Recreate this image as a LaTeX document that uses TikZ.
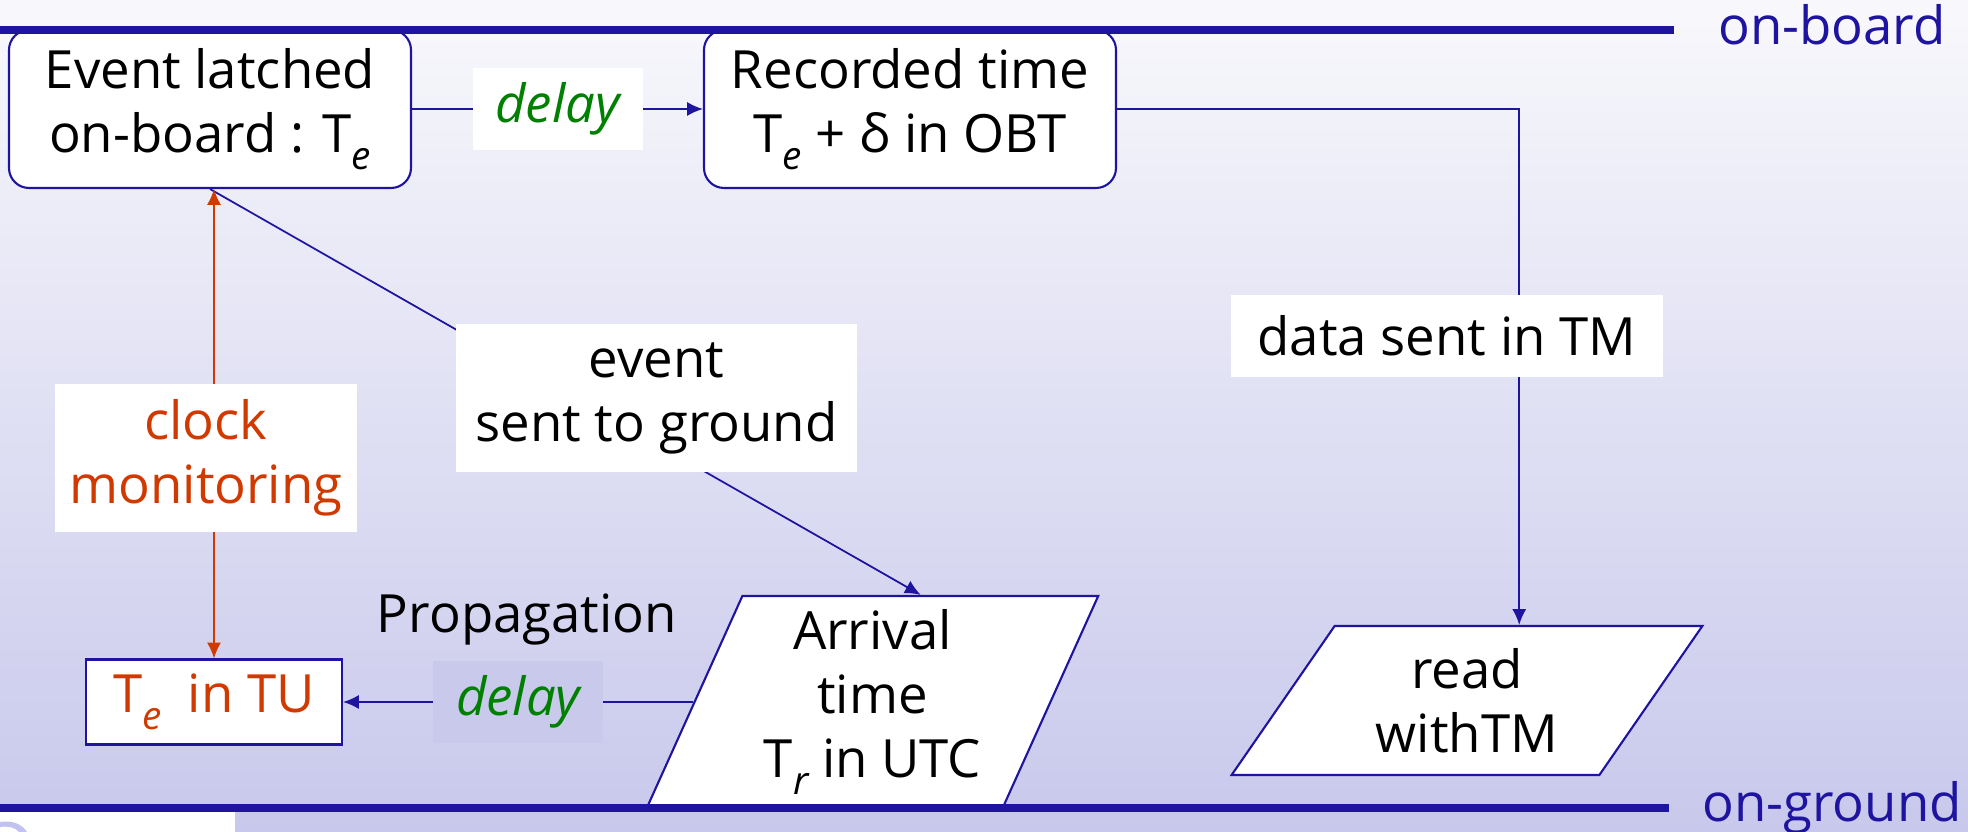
\documentclass[tikz,border=0pt]{standalone}
\usepackage{fontspec}
\setmainfont{Open Sans}
\usetikzlibrary{arrows.meta,shapes.geometric}

\definecolor{lineblue}{RGB}{30,20,160}
\definecolor{txtred}{RGB}{208,58,0}
\definecolor{txtgreen}{RGB}{0,128,0}
\definecolor{bgtop}{RGB}{248,248,252}
\definecolor{bgmid}{RGB}{238,238,248}
\definecolor{bgbot}{RGB}{200,200,236}
\definecolor{lbllav}{RGB}{201,201,235}

\newcommand{\lowsub}[1]{\raisebox{-0.32em}{\fontsize{11}{11}\selectfont\itshape #1}}

\begin{document}
\begin{tikzpicture}[>={Latex[length=4.5pt,width=4pt]},
  txt/.style={font=\fontsize{15}{18.2}\selectfont, align=center},
  obtbox/.style={txt, draw=lineblue, fill=white, line width=0.6pt, rounded corners=0.2cm, minimum height=1.58cm},
  gndbox/.style={txt, draw=lineblue, fill=white, line width=0.6pt, trapezium, trapezium stretches=true},
  lbl/.style={txt, fill=white, inner sep=2pt},
  dly/.style={lbl, text=txtgreen, font=\fontsize{15}{18.2}\selectfont\itshape, minimum width=1.7cm, minimum height=0.82cm},
  link/.style={lineblue, line width=0.5pt},
  redlink/.style={txtred, line width=0.5pt},
  level/.style={lineblue, line width=2.2pt},
  side/.style={txt, text=lineblue}]

\useasboundingbox (0,0) rectangle (19.68,8.32);
\shade[top color=bgtop, middle color=bgmid, bottom color=bgbot] (0,0) rectangle (19.68,8.32);

% on-board
\node[obtbox, minimum width=4.02cm] (latched) at (2.10,7.23)
{Event latched\\on-board : T\lowsub{e}};

\node[obtbox, minimum width=4.12cm] (recorded) at (9.10,7.23)
{Recorded time\\T\lowsub{e} + δ in OBT};

% on-ground
\node[gndbox, trapezium left angle=67, trapezium right angle=113,
  minimum width=4.52cm, minimum height=2.12cm] (arrival) at (8.725,1.30)
{Arrival\\time\\T\lowsub{r} in UTC};

\node[gndbox, trapezium left angle=58, trapezium right angle=122,
  minimum width=4.71cm, minimum height=1.49cm] (read) at (14.67,1.315)
{read\\withTM};

\node[txt, draw=lineblue, fill=white, line width=0.6pt, text=txtred,
  minimum width=2.56cm, minimum height=0.85cm] (tetu) at (2.14,1.30)
{T\lowsub{e}\enspace in TU};

% links
\draw[link,->] (latched) -- (recorded)
node[dly, midway] (delayobt) {delay};

\draw[link,->] (recorded.east) -| (read.top side);
\node[lbl, minimum width=4.32cm, minimum height=0.82cm] (senttm) at (14.47,4.96)
{data sent in TM};

\draw[link,->] (latched.south) -- (arrival.top side);
\node[lbl, minimum width=4.01cm, minimum height=1.48cm] (sentgnd) at (6.565,4.34)
{event\\sent to ground};

\draw[redlink,<->] (tetu.north) -- (tetu.north |- latched.south);
\node[lbl, text=txtred, minimum width=3.02cm, minimum height=1.48cm] (clockmon) at (2.06,3.74)
{clock\\monitoring};

\draw[link,->] (arrival.left side) -- (tetu)
node[dly, midway, fill=lbllav] (delaygnd) {delay};

\node[txt, anchor=base] (propag) at (5.27,1.99) {Propagation};

% levels
\draw[level] (0,8.02) -- (16.74,8.02);
\node[side, anchor=base] (onboard) at (18.32,7.87) {on-board};

\draw[level] (0,0.24) -- (16.69,0.24);
\node[side, anchor=base] (onground) at (18.32,0.10) {on-ground};

\fill[white] (0,0) rectangle (2.35,0.20);
\fill[gray!40!blue!30] (0,0.10) .. controls (0.12,0.12) and (0.22,0.08) .. (0.27,0)
-- (0.19,0) .. controls (0.15,0.05) and (0.08,0.06) .. (0,0.05) -- cycle;

\end{tikzpicture}
\end{document}
